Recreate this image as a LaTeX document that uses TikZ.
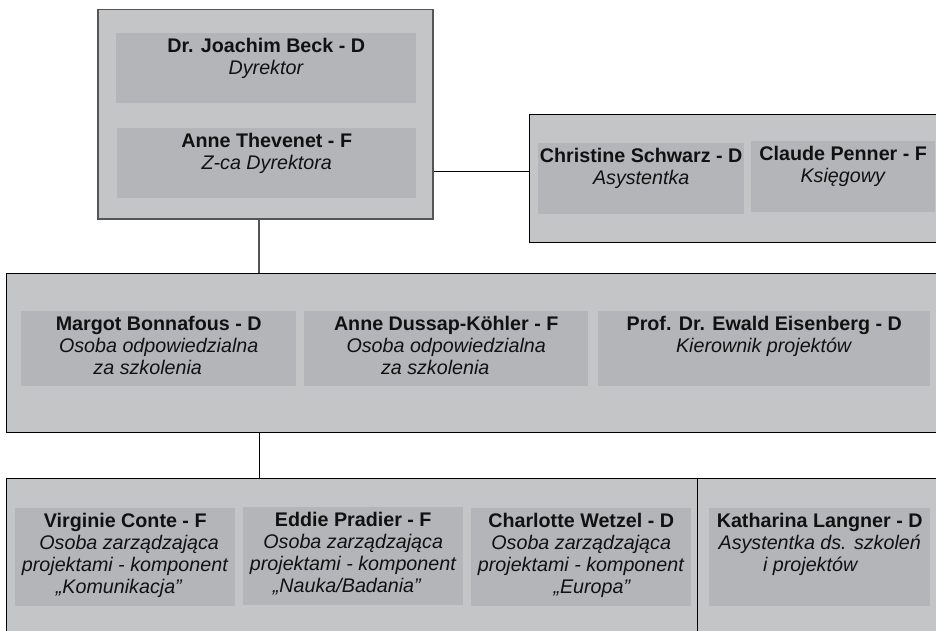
\documentclass[tikz,border=0pt]{standalone}
\usepackage{fontspec}
\setmainfont{Liberation Sans}
\definecolor{outerfill}{HTML}{C4C5C7}
\definecolor{innerfill}{HTML}{B4B5B8}
\definecolor{dirline}{HTML}{555555}
\definecolor{txtcol}{HTML}{111111}
\begin{document}
\begin{tikzpicture}[x=1pt,y=-1pt,
  outerbox/.style={draw=black, line width=1pt, fill=outerfill, inner sep=0pt, anchor=north west},
  innerbox/.style={fill=innerfill, inner sep=0pt, anchor=north west},
  txt/.style={anchor=north, inner sep=0pt, align=center, text=txtcol, font=\fontsize{19.7}{22}\selectfont},
  conn/.style={draw=black, line width=1pt}]
\useasboundingbox (0,0) rectangle (936,631);
\clip (0,0) rectangle (936,631);
% outer boxes
\node[outerbox, draw=dirline, line width=1.5pt, minimum width=335pt, minimum height=209pt] (dir) at (97,9) {};
\node[outerbox, minimum width=430pt, minimum height=128pt] (asst) at (529,114) {};
\node[outerbox, minimum width=945pt, minimum height=159pt] (mid) at (6,273) {};
\node[outerbox, minimum width=945pt, minimum height=175pt] (bot) at (6,478) {};
% inner boxes
\node[innerbox, minimum width=300pt, minimum height=70pt] (beck) at (116,33) {};
\node[innerbox, minimum width=299pt, minimum height=70pt] (thev) at (117,128) {};
\node[innerbox, minimum width=206pt, minimum height=71pt] (schw) at (538,143) {};
\node[innerbox, minimum width=184pt, minimum height=71pt] (penn) at (751,141) {};
\node[innerbox, minimum width=275pt, minimum height=75pt] (bonn) at (21,311) {};
\node[innerbox, minimum width=284pt, minimum height=75pt] (duss) at (304,311) {};
\node[innerbox, minimum width=332pt, minimum height=75pt] (eise) at (598,311) {};
\node[innerbox, minimum width=220pt, minimum height=98pt] (cont) at (15,508) {};
\node[innerbox, minimum width=220pt, minimum height=98pt] (prad) at (243,507) {};
\node[innerbox, minimum width=220pt, minimum height=98pt] (wetz) at (471,508) {};
\node[innerbox, minimum width=221pt, minimum height=98pt] (lang) at (709,508) {};
% texts
\node[txt] (beckt) at ([yshift=-3.6pt]beck.north) {\strut\textbf{Dr. Joachim Beck - D}\\\textit{Dyrektor}};
\node[txt] (thevt) at ([yshift=-3.6pt]thev.north) {\strut\textbf{Anne Thevenet - F}\\\textit{Z-ca Dyrektora}};
\node[txt] (schwt) at ([yshift=-3.6pt]schw.north) {\strut\textbf{Christine Schwarz - D}\\\textit{Asystentka}};
\node[txt] (pennt) at ([yshift=-3.6pt]penn.north) {\strut\textbf{Claude Penner - F}\\\textit{Księgowy}};
\node[txt] (bonnt) at ([yshift=-3.6pt]bonn.north) {\strut\textbf{Margot Bonnafous - D}\\\textit{Osoba odpowiedzialna}\\\textit{za szkolenia}\rule{22pt}{0pt}};
\node[txt] (censt) at ([yshift=-3.6pt]duss.north) {\strut\textbf{Anne Dussap-Köhler - F}\\\textit{Osoba odpowiedzialna}\\\textit{za szkolenia}\rule{22pt}{0pt}};
\node[txt] (eiset) at ([yshift=-3.6pt]eise.north) {\strut\textbf{Prof. Dr. Ewald Eisenberg - D}\\\textit{Kierownik projektów}};
\node[txt] (contt) at ([yshift=-3.6pt]cont.north) {\strut\textbf{Virginie Conte - F}\\\rule{8pt}{0pt}\textit{Osoba zarządzająca}\\\textit{projektami - komponent}\\\textit{„Komunikacja”}\rule{12pt}{0pt}};
\node[txt] (pradt) at ([yshift=-3.6pt]prad.north) {\strut\textbf{Eddie Pradier - F}\\\textit{Osoba zarządzająca}\\\textit{projektami - komponent}\\\textit{„Nauka/Badania”}\rule{12pt}{0pt}};
\node[txt] (wetzt) at ([yshift=-3.6pt]wetz.north) {\strut\textbf{Charlotte Wetzel - D}\\\textit{Osoba zarządzająca}\\\textit{projektami - komponent}\\\rule{22pt}{0pt}\textit{„Europa”}};
\node[txt] (langt) at ([yshift=-3.6pt]lang.north) {\strut\textbf{Katharina Langner - D}\\\textit{Asystentka ds. szkoleń}\\\textit{i projektów}\rule{18pt}{0pt}};
% connectors
\draw[dirline, line width=1.5pt] ([xshift=-6.5pt]dir.south) -- ([xshift=-6.5pt]dir.south |- mid.north);
\draw[conn] ([yshift=-57.5pt]dir.east) -- ([yshift=-57.5pt]dir.east -| asst.west);
\draw[conn] ([xshift=-219.5pt]mid.south) -- ([xshift=-219.5pt]mid.south |- bot.north);
\coordinate (dv) at (697,478);
\draw[conn] (dv) -- (dv |- bot.south);
\end{tikzpicture}
\end{document}
